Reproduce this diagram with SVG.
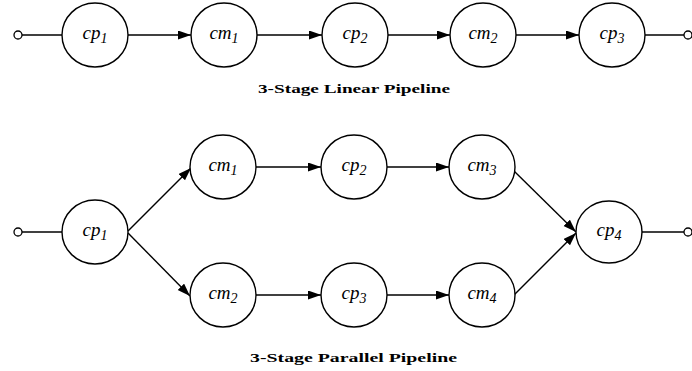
<svg xmlns="http://www.w3.org/2000/svg" width="692" height="371" viewBox="0 0 692 371">
<style>
.n{fill:#fff;stroke:#000;stroke-width:1.4}
.t{font-family:"Liberation Serif","Times New Roman",serif;font-style:italic;font-size:19px;fill:#000}
.s{font-size:14px}
.e{stroke:#000;stroke-width:1.4;fill:none}
.a{stroke:#000;stroke-width:1.4;fill:none;marker-end:url(#ah)}
.p{fill:#fff;stroke:#000;stroke-width:1.3}
.ti{font-family:"Liberation Serif","Times New Roman",serif;font-weight:bold;font-size:13.5px;fill:#000}
</style>
<defs>
<marker id="ah" markerUnits="userSpaceOnUse" markerWidth="14" markerHeight="10" refX="13" refY="4.5" orient="auto">
<path d="M0,0 L13,4.5 L0,9 z" fill="#000"/>
</marker>
</defs>
<rect width="692" height="371" fill="#fff"/>
<g id="connectors">
<line class="e" x1="22" y1="35" x2="62" y2="35"/>
<line class="a" x1="128" y1="35" x2="191" y2="35"/>
<line class="a" x1="257" y1="35" x2="322" y2="35"/>
<line class="a" x1="388" y1="35" x2="450" y2="35"/>
<line class="a" x1="516" y1="35" x2="579" y2="35"/>
<line class="e" x1="645" y1="35" x2="684" y2="35"/>
<line class="e" x1="22" y1="232" x2="62" y2="232"/>
<line class="a" x1="128" y1="231" x2="191" y2="168"/>
<line class="a" x1="128" y1="233" x2="190" y2="296"/>
<line class="a" x1="256" y1="167" x2="321" y2="167"/>
<line class="a" x1="387" y1="167" x2="449" y2="167"/>
<line class="a" x1="256" y1="295" x2="321" y2="295"/>
<line class="a" x1="387" y1="295" x2="449" y2="295"/>
<line class="a" x1="514" y1="171" x2="576" y2="232"/>
<line class="a" x1="513" y1="296" x2="576" y2="233"/>
<line class="e" x1="642" y1="232" x2="684" y2="232"/>
</g>
<g id="ports">
<circle class="p" cx="18" cy="35" r="4"/>
<circle class="p" cx="688" cy="35" r="4"/>
<circle class="p" cx="18" cy="232" r="4"/>
<circle class="p" cx="688" cy="232" r="4"/>
</g>
<g id="l_cp1"><ellipse class="n" cx="95" cy="35" rx="33" ry="32"/><text class="t" x="95" y="39" text-anchor="middle">cp<tspan class="s" dy="4">1</tspan></text></g>
<g id="l_cm1"><ellipse class="n" cx="224" cy="35" rx="33" ry="32"/><text class="t" x="224" y="39" text-anchor="middle">cm<tspan class="s" dy="4">1</tspan></text></g>
<g id="l_cp2"><ellipse class="n" cx="355" cy="35" rx="33" ry="32"/><text class="t" x="355" y="39" text-anchor="middle">cp<tspan class="s" dy="4">2</tspan></text></g>
<g id="l_cm2"><ellipse class="n" cx="483" cy="35" rx="33" ry="32"/><text class="t" x="483" y="39" text-anchor="middle">cm<tspan class="s" dy="4">2</tspan></text></g>
<g id="l_cp3"><ellipse class="n" cx="612" cy="35" rx="33" ry="32"/><text class="t" x="612" y="39" text-anchor="middle">cp<tspan class="s" dy="4">3</tspan></text></g>
<g id="p_cp1"><ellipse class="n" cx="95" cy="232" rx="33" ry="32"/><text class="t" x="95" y="236" text-anchor="middle">cp<tspan class="s" dy="4">1</tspan></text></g>
<g id="p_cm1"><ellipse class="n" cx="223" cy="167" rx="33" ry="32"/><text class="t" x="223" y="171" text-anchor="middle">cm<tspan class="s" dy="4">1</tspan></text></g>
<g id="p_cm2"><ellipse class="n" cx="223" cy="295" rx="33" ry="32"/><text class="t" x="223" y="299" text-anchor="middle">cm<tspan class="s" dy="4">2</tspan></text></g>
<g id="p_cp2"><ellipse class="n" cx="354" cy="167" rx="33" ry="32"/><text class="t" x="354" y="171" text-anchor="middle">cp<tspan class="s" dy="4">2</tspan></text></g>
<g id="p_cp3"><ellipse class="n" cx="354" cy="295" rx="33" ry="32"/><text class="t" x="354" y="299" text-anchor="middle">cp<tspan class="s" dy="4">3</tspan></text></g>
<g id="p_cm3"><ellipse class="n" cx="482" cy="167" rx="33" ry="32"/><text class="t" x="482" y="171" text-anchor="middle">cm<tspan class="s" dy="4">3</tspan></text></g>
<g id="p_cm4"><ellipse class="n" cx="482" cy="295" rx="33" ry="32"/><text class="t" x="482" y="299" text-anchor="middle">cm<tspan class="s" dy="4">4</tspan></text></g>
<g id="p_cp4"><ellipse class="n" cx="609" cy="232" rx="33" ry="31"/><text class="t" x="609" y="236" text-anchor="middle">cp<tspan class="s" dy="4">4</tspan></text></g>
<text class="ti" x="258" y="93" textLength="192" lengthAdjust="spacingAndGlyphs">3-Stage Linear Pipeline</text>
<text class="ti" x="250" y="362" textLength="207" lengthAdjust="spacingAndGlyphs">3-Stage Parallel Pipeline</text>
</svg>
